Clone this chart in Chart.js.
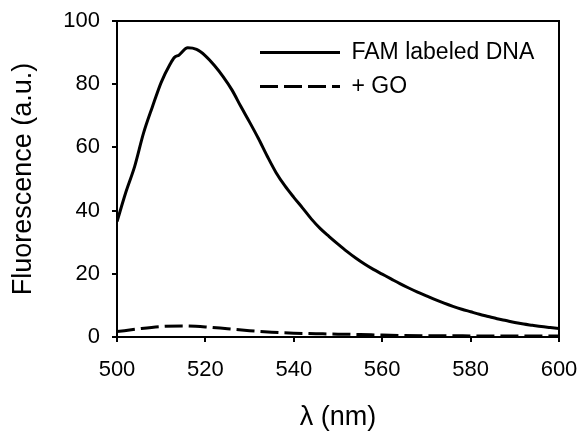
<!DOCTYPE html>
<html>
<head>
<meta charset="utf-8">
<script src="https://cdn.jsdelivr.net/npm/chart.js@4"></script>
<style>
  html, body { margin: 0; padding: 0; background: #fff; }
  #wrap { width: 581px; height: 432px; }
</style>
</head>
<body>
<div id="wrap"><canvas id="chart" width="581" height="432"></canvas></div>
<script>
// wavelength (nm) and fluorescence values
const famWavelength = [500, 502, 504, 506, 508, 510, 512, 513, 514, 516, 518, 520, 522, 524, 526, 528, 530,
    532, 534, 536, 538, 540, 542, 544, 546, 548, 550, 552, 554, 556, 558, 560, 562, 564, 566, 568, 570,
    572, 574, 576, 578, 580, 582, 584, 586, 588, 590, 592, 594, 596, 598, 600];
const famValues = [36.5, 45.8, 54, 64.5, 72.8, 80.6, 86.3, 88.5, 89.2, 91.5, 91, 89, 86, 82.4, 78.2, 73, 68,
    62.8, 57.2, 52, 47.8, 44.2, 40.8, 37.3, 34.3, 31.8, 29.4, 27.1, 25, 23.1, 21.4, 19.9, 18.4, 16.9, 15.5, 14.2, 13,
    11.8, 10.7, 9.7, 8.8, 8.0, 7.2, 6.5, 5.8, 5.2, 4.6, 4.1, 3.7, 3.3, 3.0, 2.7];

const goWavelength = [500, 505, 510, 515, 520, 525, 530, 535, 540, 545, 550, 555, 560, 570, 580, 590, 600];
const goValues = [1.7, 2.6, 3.3, 3.5, 3.2, 2.6, 2.0, 1.5, 1.2, 1.05, 0.9, 0.8, 0.6, 0.4, 0.35, 0.3, 0.3];

const seriesNames = ['FAM labeled DNA', '+ GO'];
const xTitle = 'λ (nm)';
const yTitle = 'Fluorescence (a.u.)';

const FONT = '"Liberation Sans", Arial, sans-serif';

function toPoints(xs, ys) {
    return xs.map((x, i) => ({ x: x, y: ys[i] }));
}

// top and right edges of the frame
const framePlugin = {
    id: 'frame',
    afterDatasetsDraw(chart) {
        const a = chart.chartArea;
        const ctx = chart.ctx;
        ctx.save();
        ctx.strokeStyle = '#000';
        ctx.lineWidth = 2;
        ctx.strokeRect(a.left, a.top, a.right - a.left, a.bottom - a.top);
        ctx.restore();
    }
};

// put the legend inside the plot, upper right
const legendPlace = {
    id: 'legendPlace',
    beforeDraw(chart) {
        const lg = chart.legend;
        if (!lg) return;
        lg.left = 249;
        lg.top = 30;
        lg.right = 560;
        lg.bottom = 140;
        lg.width = lg.right - lg.left;
        lg.height = lg.bottom - lg.top;
    }
};

const axisCommon = {
    type: 'linear',
    border: { display: true, color: '#000', width: 2 },
    grid: { drawOnChartArea: false, drawTicks: true, tickLength: 5, color: '#000', lineWidth: 2 },
    ticks: { color: '#000', font: { family: FONT, size: 22 } }
};

new Chart(document.getElementById('chart'), {
    type: 'line',
    data: {
        datasets: [
            {
                label: seriesNames[0],
                data: toPoints(famWavelength, famValues),
                borderColor: '#000',
                backgroundColor: '#000',
                borderWidth: 3,
                pointRadius: 0,
                cubicInterpolationMode: 'monotone'
            },
            {
                label: seriesNames[1],
                data: toPoints(goWavelength, goValues),
                borderColor: '#000',
                backgroundColor: '#000',
                borderWidth: 3,
                borderDash: [18, 6],
                pointRadius: 0,
                cubicInterpolationMode: 'monotone'
            }
        ]
    },
    options: {
        responsive: false,
        animation: false,
        layout: { padding: { left: 0, top: 21, right: 22, bottom: 0 } },
        plugins: {
            legend: {
                position: 'chartArea',
                align: 'start',
                labels: {
                    usePointStyle: true,
                    pointStyle: 'line',
                    pointStyleWidth: 80,
                    padding: 11,
                    color: '#000',
                    font: { family: FONT, size: 23 },
                    generateLabels(chart) {
                        const items = Chart.defaults.plugins.legend.labels.generateLabels(chart);
                        items.forEach(item => {
                            const ds = chart.data.datasets[item.datasetIndex];
                            item.lineDash = ds.borderDash || [];
                            item.lineWidth = ds.borderWidth;
                            item.strokeStyle = ds.borderColor;
                        });
                        return items;
                    }
                }
            },
            tooltip: { enabled: false }
        },
        scales: {
            x: Object.assign({}, axisCommon, {
                min: 500,
                max: 600,
                ticks: Object.assign({}, axisCommon.ticks, { stepSize: 20, padding: 15, maxRotation: 0 }),
                title: {
                    display: true,
                    text: xTitle,
                    color: '#000',
                    font: { family: FONT, size: 27 },
                    padding: { top: 0, bottom: -2 }
                },
                afterFit: scale => {
                    scale.height = 95;
                    scale.paddingLeft = 0;
                    scale.paddingRight = 0;
                }
            }),
            y: Object.assign({}, axisCommon, {
                min: 0,
                max: 100,
                ticks: Object.assign({}, axisCommon.ticks, { stepSize: 20, padding: 12 }),
                title: {
                    display: true,
                    text: yTitle,
                    color: '#000',
                    font: { family: FONT, size: 27 },
                    padding: { top: 7, bottom: 0 }
                },
                afterFit: scale => {
                    scale.width = 117;
                    scale.paddingTop = 0;
                    scale.paddingBottom = 0;
                }
            })
        }
    },
    plugins: [framePlugin, legendPlace]
});
</script>
</body>
</html>
